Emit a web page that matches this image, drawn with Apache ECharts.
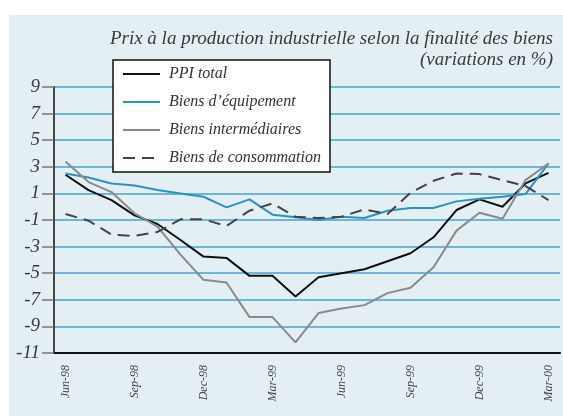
<!DOCTYPE html>
<html>
<head>
<meta charset="utf-8">
<script src="https://cdn.jsdelivr.net/npm/echarts@6/dist/echarts.min.js"></script>
<style>
  html, body { margin: 0; padding: 0; background: #fff; }
  #chart { width: 563px; height: 416px; }
</style>
</head>
<body>
<div id="chart"></div>
<script>
// mois, de juin 98 a mars 2000
const months = ['Jun-98', 'Jul-98', 'Aug-98', 'Sep-98', 'Oct-98', 'Nov-98', 'Dec-98',
  'Jan-99', 'Feb-99', 'Mar-99', 'Apr-99', 'May-99', 'Jun-99', 'Jul-99', 'Aug-99',
  'Sep-99', 'Oct-99', 'Nov-99', 'Dec-99', 'Jan-00', 'Feb-00', 'Mar-00'];

const ppiTotal = [2.4, 1.25, 0.5, -0.65, -1.3, -2.5, -3.75, -3.85, -5.2, -5.2, -6.75,
  -5.3, -5.0, -4.7, -4.1, -3.5, -2.3, -0.25, 0.55, 0.0, 1.75, 2.55];
const equipement = [2.5, 2.2, 1.75, 1.6, 1.25, 1.0, 0.75, -0.05, 0.55, -0.6, -0.8,
  -1.0, -0.75, -0.85, -0.3, -0.1, -0.1, 0.4, 0.6, 0.75, 0.95, 3.25];
const intermediaires = [3.4, 1.85, 1.1, -0.5, -1.5, -3.6, -5.5, -5.7, -8.3, -8.3, -10.2,
  -8.0, -7.65, -7.4, -6.5, -6.1, -4.55, -1.8, -0.45, -0.9, 2.0, 3.25];
const consommation = [-0.55, -1.05, -2.1, -2.2, -1.9, -0.95, -0.95, -1.45, -0.3, 0.25, -0.75,
  -0.85, -0.75, -0.2, -0.55, 1.05, 1.95, 2.5, 2.45, 2.0, 1.55, 0.5];

const serif = 'Liberation Serif';
const titleStyle = {
  fontFamily: serif,
  fontStyle: 'italic',
  fontWeight: 'normal',
  fontSize: 19,
  color: '#3a3a3a'
};

let chartDom = document.getElementById('chart');
let myChart = echarts.init(chartDom);
let option;

option = {
  animation: false,
  graphic: [{
    type: 'rect',
    z: -10,
    shape: { x: 9, y: 15, width: 554, height: 401 },
    style: { fill: '#e4eff4' }
  }],
  title: [
    { text: 'Prix à la production industrielle selon la finalité des biens', right: 10, top: 29, padding: 0, textStyle: titleStyle },
    { text: '(variations en %)', right: 10, top: 50, padding: 0, textStyle: titleStyle }
  ],
  legend: {
    orient: 'vertical',
    left: 113,
    top: 60,
    backgroundColor: '#fff',
    borderColor: '#111',
    borderWidth: 1.5,
    borderRadius: 0,
    padding: [6, 9, 6, 9],
    itemWidth: 37,
    itemHeight: 16,
    itemGap: 12,
    itemStyle: { opacity: 0 },
    textStyle: {
      fontFamily: serif,
      fontStyle: 'italic',
      fontSize: 16,
      lineHeight: 16,
      color: '#333',
      padding: [0, 0, 0, 4]
    }
  },
  grid: {
    left: 54,
    right: 3,
    top: 87,
    bottom: 63
  },
  xAxis: {
    type: 'category',
    data: months,
    boundaryGap: true,
    axisLine: { onZero: false, lineStyle: { color: '#111', width: 2 } },
    axisTick: {
      inside: true,
      length: 7,
      interval: 0,
      alignWithLabel: true,
      lineStyle: { color: '#222', width: 1.5 }
    },
    axisLabel: {
      interval: 2,
      rotate: 90,
      margin: 12,
      fontFamily: serif,
      fontStyle: 'italic',
      fontSize: 12,
      color: '#444'
    }
  },
  yAxis: {
    type: 'value',
    min: -11,
    max: 9,
    interval: 2,
    axisLine: { show: true, lineStyle: { color: '#111', width: 1.5 } },
    axisTick: { show: true, length: 12, lineStyle: { color: '#777', width: 1.5 } },
    axisLabel: {
      margin: 14,
      fontFamily: serif,
      fontStyle: 'italic',
      fontSize: 19,
      color: '#3a3a3a'
    },
    splitLine: { lineStyle: { color: '#45a4cb', width: 1.5 } }
  },
  series: [
    {
      name: 'PPI total',
      type: 'line',
      data: ppiTotal,
      symbol: 'none',
      lineStyle: { color: '#111', width: 2 },
      itemStyle: { color: '#111' }
    },
    {
      name: 'Biens d\u2019équipement',
      type: 'line',
      data: equipement,
      symbol: 'none',
      lineStyle: { color: '#2b93bd', width: 2 },
      itemStyle: { color: '#2b93bd' }
    },
    {
      name: 'Biens intermédiaires',
      type: 'line',
      data: intermediaires,
      symbol: 'none',
      lineStyle: { color: '#8a8a8a', width: 2 },
      itemStyle: { color: '#8a8a8a' }
    },
    {
      name: 'Biens de consommation',
      type: 'line',
      data: consommation,
      symbol: 'none',
      lineStyle: { color: '#444', width: 2, type: [12, 7] },
      itemStyle: { color: '#444' }
    }
  ]
};

option && myChart.setOption(option);
</script>
</body>
</html>
